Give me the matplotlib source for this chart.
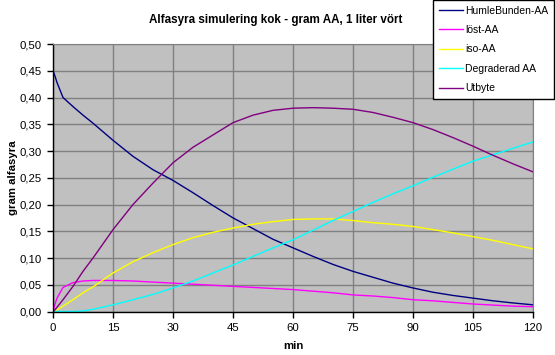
import matplotlib
matplotlib.use("Agg")
import matplotlib.pyplot as plt

plt.rcParams['font.family'] = ['Liberation Sans', 'DejaVu Sans']

t = [0, 0.5, 1, 2.5, 5, 7.5, 10, 15, 20, 25, 30, 35, 40, 45, 50, 55, 60, 65, 70, 75,
     80, 85, 90, 95, 100, 105, 110, 115, 120]
humle = [0.45, 0.44, 0.428, 0.40, 0.383, 0.367, 0.352, 0.32, 0.29, 0.265, 0.245, 0.222,
         0.198, 0.175, 0.155, 0.135, 0.119, 0.103, 0.088, 0.075, 0.064, 0.053,
         0.044, 0.036, 0.030, 0.025, 0.020, 0.016, 0.0125]
lost = [0, 0.014, 0.025, 0.045, 0.054, 0.057, 0.058, 0.058, 0.057, 0.055, 0.053, 0.051,
        0.049, 0.047, 0.045, 0.043, 0.041, 0.038, 0.035, 0.031, 0.029, 0.026,
        0.022, 0.020, 0.017, 0.014, 0.012, 0.010, 0.009]
iso = [0, 0.001, 0.003, 0.01, 0.022, 0.035, 0.046, 0.072, 0.093, 0.11, 0.125, 0.138,
       0.148, 0.156, 0.163, 0.168, 0.172, 0.173, 0.173, 0.170, 0.166, 0.163,
       0.159, 0.153, 0.147, 0.140, 0.133, 0.125, 0.117]
degr = [0, 0, 0, 0, 0, 0.001, 0.004, 0.0125, 0.022, 0.032, 0.044, 0.057, 0.072,
        0.087, 0.103, 0.119, 0.134, 0.152, 0.170, 0.187, 0.204, 0.220, 0.235,
        0.251, 0.266, 0.281, 0.293, 0.305, 0.317]
utbyte = [0, 0.003, 0.008, 0.022, 0.047, 0.075, 0.1, 0.153, 0.2, 0.24, 0.278, 0.307,
          0.33, 0.353, 0.367, 0.376, 0.380, 0.381, 0.380, 0.378, 0.372, 0.363,
          0.353, 0.34, 0.325, 0.309, 0.292, 0.276, 0.261]

labels = ['HumleBunden-AA', 'löst-AA', 'iso-AA', 'Degraderad AA', 'Utbyte']
colors = ['#000080', '#FF00FF', '#FFFF00', '#00FFFF', '#800080']
series = [humle, lost, iso, degr, utbyte]

xticks = [0, 15, 30, 45, 60, 75, 90, 105, 120]
yticks = [0.0, 0.05, 0.10, 0.15, 0.20, 0.25, 0.30, 0.35, 0.40, 0.45, 0.50]
ytick_labels = ['0,00', '0,05', '0,10', '0,15', '0,20', '0,25', '0,30', '0,35',
                '0,40', '0,45', '0,50']

W, H = 555, 355
fig = plt.figure(figsize=(W / 100, H / 100), dpi=100)
ax = fig.add_axes([53 / W, 1 - 311.5 / H, 480 / W, 267.5 / H])
ax.set_facecolor('#C0C0C0')

lines = []
for y, c, lab in zip(series, colors, labels):
    ln, = ax.plot(t, y, color=c, lw=1.0, label=lab)
    lines.append(ln)

ax.set_xlim(0, 120)
ax.set_ylim(0, 0.5)
ax.set_xticks(xticks)
ax.set_yticks(yticks)
ax.set_yticklabels(ytick_labels)
ax.grid(True, color='#808080', lw=1.0)
ax.set_axisbelow(True)
for s in ['top', 'right']:
    ax.spines[s].set_color('#808080')
for s in ['left', 'bottom']:
    ax.spines[s].set_color('black')
    ax.spines[s].set_linewidth(1.0)
ax.tick_params(direction='out', length=4, width=1, labelsize=8.2, pad=4)

ax.set_xlabel('min', fontsize=8.2, fontweight='bold', labelpad=6)
ax.set_ylabel('gram alfasyra', fontsize=8.2, fontweight='bold', labelpad=1)
fig.text(276 / W, 1 - 19.5 / H, 'Alfasyra simulering kok - gram AA, 1 liter vört',
         ha='center', va='center', fontsize=8.4, fontweight='bold')

leg = fig.legend(handles=lines, loc='upper right',
                 bbox_to_anchor=(554 / W, 1.0), fontsize=7.5,
                 frameon=True, fancybox=False, edgecolor='black',
                 framealpha=1, handlelength=2.3, handletextpad=0.2,
                 labelspacing=0.9, borderpad=0.55, borderaxespad=0)
leg.get_frame().set_linewidth(1.0)

fig.savefig('out.png', dpi=100, facecolor='white')
